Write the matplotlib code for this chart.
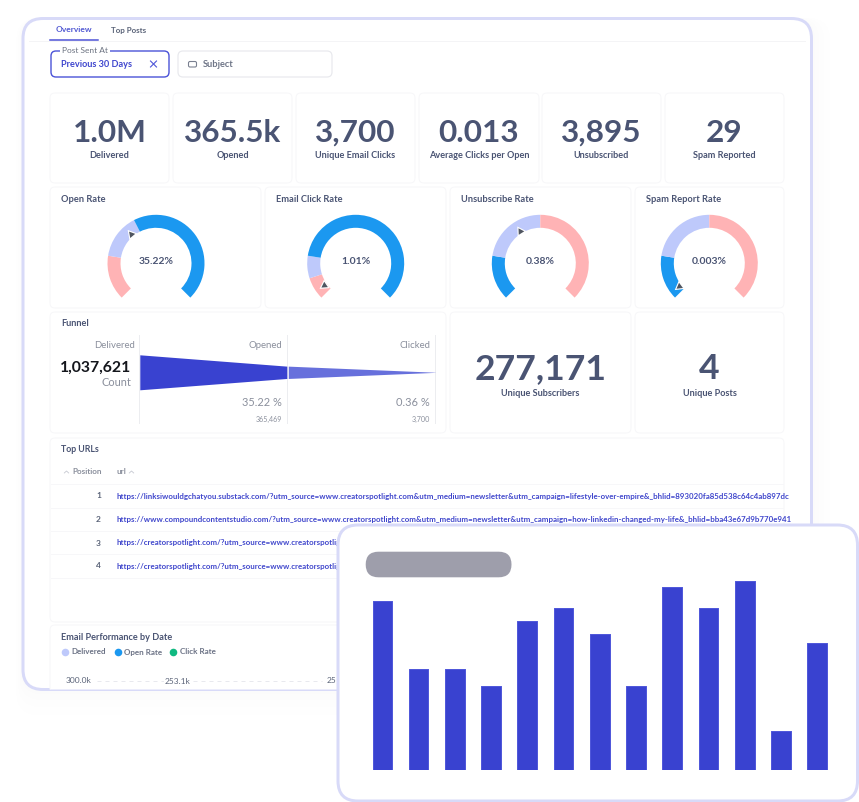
import matplotlib
matplotlib.use("Agg")
import matplotlib.pyplot as plt
from matplotlib.patches import FancyBboxPatch, Wedge
import numpy as np

plt.rcParams['font.family'] = ['Lato', 'DejaVu Sans']

W, H = 859, 802

# KPI row
kpi_values = ["1.0M", "365.5k", "3,700", "0.013", "3,895", "29"]
kpi_labels = ["Delivered", "Opened", "Unique Email Clicks", "Average Clicks per Open", "Unsubscribed", "Spam Reported"]

# Gauges
gauge_titles = ["Open Rate", "Email Click Rate", "Unsubscribe Rate", "Spam Report Rate"]
gauge_values = [35.22, 1.01, 0.38, 0.003]
gauge_labels = ["35.22%", "1.01%", "0.38%", "0.003%"]
gauge_stops = [[0, 20, 40, 100], [0, 2.5, 5, 25], [0, 0.2, 0.5, 1], [0, 0.02, 0.05, 0.1]]
gauge_colors = [["#FFB3B5", "#BEC9FB", "#1B98F0"], ["#FFB3B5", "#BEC9FB", "#1B98F0"],
                ["#1B98F0", "#BEC9FB", "#FFB3B5"], ["#1B98F0", "#BEC9FB", "#FFB3B5"]]

# Funnel
funnel_steps = ["Delivered", "Opened", "Clicked"]
funnel_counts = [1037621, 365469, 3700]
funnel_pct = ["35.22 %", "0.36 %"]
funnel_count_labels = ["365,469", "3,700"]

# Table
url_positions = ["1", "2", "3", "4"]
urls = [
    "https://linksiwouldgchatyou.substack.com/?utm_source=www.creatorspotlight.com&utm_medium=newsletter&utm_campaign=lifestyle-over-empire&_bhlid=893020fa85d538c64c4ab897dc",
    "https://www.compoundcontentstudio.com/?utm_source=www.creatorspotlight.com&utm_medium=newsletter&utm_campaign=how-linkedin-changed-my-life&_bhlid=bba43e67d9b770e941",
    "https://creatorspotlight.com/?utm_source=www.creatorspotlig",
    "https://creatorspotlight.com/?utm_source=www.creatorspotlig",
]

# Foreground bar card
bar_heights = [169, 101, 101, 84, 149, 162, 136, 84, 183, 162, 189, 39, 127]

INK = "#4A5473"
GREY = "#8A8F9C"
BLUE = "#3942D0"
LINK = "#4047CC"
FRAME = "#D8DAF8"
CARD_EDGE = "#F7F7F9"


def pt(px):
    return px * 0.72


def box(ax, x0, y0, x1, y1, r=5, fc="white", ec=CARD_EDGE, lw=1.0, **kw):
    p = FancyBboxPatch((x0, y0), x1 - x0, y1 - y0, boxstyle=f"round,pad=0,rounding_size={r}",
                       fc=fc, ec=ec, lw=pt(lw), **kw)
    ax.add_patch(p)
    return p


def px_axes(fig, x0, y0, x1, y1, zorder):
    # rect given in image pixels, y going down
    ax = fig.add_axes([x0 / W, 1 - y1 / H, (x1 - x0) / W, (y1 - y0) / H], zorder=zorder)
    ax.patch.set_alpha(0)
    ax.axis("off")
    return ax


def val_angle(v, vmax):
    return 225 - 270 * v / vmax


fig = plt.figure(figsize=(W / 100, H / 100), dpi=100, facecolor="white")
main = px_axes(fig, 0, 0, W, H, 1)
main.set_xlim(0, W)
main.set_ylim(H, 0)

# soft shadow and outer frame
for grow in [18, 12, 7, 3]:
    box(main, 22 - grow * 0.3, 18, 812 + grow, 690 + grow * 1.4, r=22, fc="#8088E0", ec="none", lw=0, alpha=0.008)
frame = box(main, 23, 18.5, 811.5, 689.5, r=20, fc="white", ec=FRAME, lw=3, zorder=1)

# tabs
main.plot([29, 805], [40.5, 40.5], color="#F4F4F6", lw=pt(1), zorder=2)
main.plot([50, 98], [40, 40], color="#4A50D5", lw=pt(1.5), zorder=2)
main.text(74, 30, "Overview", color="#4F57D2", fontsize=pt(8.4), weight="bold", ha="center", va="center", zorder=3)
main.text(128.6, 30, "Top Posts", color="#5A6378", fontsize=pt(8.0), weight="bold", ha="center", va="center", zorder=3)

# filters
box(main, 51, 51, 169, 77, r=5, ec="#4C54D8", lw=1.4, zorder=2)
main.text(85, 50.5, "Post Sent At", color="#6B7280", fontsize=pt(8.4), ha="center", va="center", zorder=3,
          bbox=dict(fc="white", ec="none", pad=1.5))
main.text(61, 64.5, "Previous 30 Days", color="#3F46CE", fontsize=pt(9.2), weight="bold", ha="left", va="center", zorder=3)
main.plot([150.5, 156.5], [61, 67], color="#4C54D8", lw=pt(1.1), zorder=3)
main.plot([150.5, 156.5], [67, 61], color="#4C54D8", lw=pt(1.1), zorder=3)
box(main, 178, 51, 332, 77, r=5, ec="#E8E9ED", lw=1.2, zorder=2)
box(main, 188.5, 61.5, 196.5, 67, r=1.5, ec="#7A8090", lw=1.1, zorder=3)
main.text(203, 64.5, "Subject", color="#6F7688", fontsize=pt(9.3), weight="bold", ha="left", va="center", zorder=3)

# KPI cards
kpi_x = [(50, 169), (173, 292), (296, 415), (419, 539), (542, 661), (665, 784)]
for (x0, x1), v, lab in zip(kpi_x, kpi_values, kpi_labels):
    box(main, x0, 93, x1, 183, zorder=2)
    main.text((x0 + x1) / 2, 133, v, color=INK, fontsize=pt(31.5), weight="bold", ha="center", va="center", zorder=3)
    main.text((x0 + x1) / 2, 156, lab, color=INK, fontsize=pt(9.2), weight="bold", ha="center", va="center", zorder=3)

# gauges
gauge_cards = [(50, 261), (265, 446), (450, 631), (635, 784)]
gauge_cx = [156, 355.7, 540.3, 709.3]
gauge_cy = 263.3
for i, (x0, x1) in enumerate(gauge_cards):
    box(main, x0, 187, x1, 308, zorder=2)
    main.text(x0 + 11, 199, gauge_titles[i], color=INK, fontsize=pt(9.3), weight="bold", ha="left", va="center", zorder=3)
    gx = gauge_cx[i]
    ax = px_axes(fig, gx - 55, gauge_cy - 55, gx + 55, gauge_cy + 55, 2)
    ax.set_xlim(-55, 55)
    ax.set_ylim(-55, 55)
    stops = gauge_stops[i]
    vmax = stops[-1]
    for j in range(3):
        ax.add_patch(Wedge((0, 0), 48.5, val_angle(stops[j + 1], vmax), val_angle(stops[j], vmax),
                           width=13, fc=gauge_colors[i][j], ec="none"))
    a = val_angle(gauge_values[i], vmax)
    px_, py_ = 38.5 * np.cos(np.radians(a)), 38.5 * np.sin(np.radians(a))
    ax.plot(px_, py_, marker=(3, 0, a - 90), ms=pt(12), color="white", mew=0)
    ax.plot(px_, py_, marker=(3, 0, a - 90), ms=pt(7.5), color="#4F5560", mew=0)
    ax.text(0, 2, gauge_labels[i], color=INK, fontsize=pt(10.4), weight="bold", ha="center", va="center")

# funnel card
box(main, 50, 312, 446, 433, zorder=2)
main.text(61, 324, "Funnel", color=INK, fontsize=pt(9.2), weight="bold", ha="left", va="center", zorder=3)
for vx in [139.3, 287.3, 435.3]:
    main.plot([vx, vx], [335, 423], color="#ECEDF0", lw=pt(1), zorder=3)
for vx, s in zip([134.6, 282.6, 430.5], funnel_steps):
    main.text(vx, 345.5, s, color=GREY, fontsize=pt(9.6), ha="right", va="center", zorder=3)
main.text(131, 367.5, f"{funnel_counts[0]:,}", color="#14161C", fontsize=pt(15.8), weight="bold", ha="right", va="center", zorder=3)
main.text(131, 382, "Count", color=GREY, fontsize=pt(11), ha="right", va="center", zorder=3)
for vx, p, c in zip([282, 430], funnel_pct, funnel_count_labels):
    main.text(vx, 402, p, color=GREY, fontsize=pt(11), ha="right", va="center", zorder=3)
    main.text(vx, 419.5, c, color=GREY, fontsize=pt(7.2), ha="right", va="center", zorder=3)

fax = px_axes(fig, 139.8, 354.8, 435.3, 389.8, 2)
fax.set_xlim(0, 2)
fax.set_ylim(-funnel_counts[0], funnel_counts[0])
counts = np.array(funnel_counts, dtype=float)
fax.fill_between([0, 0.995], counts[:2], -counts[:2], color=BLUE, lw=0)
fax.fill_between([1.005, 2], counts[1:], -counts[1:], color="#6770DC", lw=0)

# subscribers / posts cards
box(main, 450, 312, 631, 433, zorder=2)
main.text(540.5, 369, "277,171", color=INK, fontsize=pt(35.5), weight="bold", ha="center", va="center", zorder=3)
main.text(540.5, 394, "Unique Subscribers", color=INK, fontsize=pt(9.2), weight="bold", ha="center", va="center", zorder=3)
box(main, 635, 312, 784, 433, zorder=2)
main.text(709.5, 369, "4", color=INK, fontsize=pt(35.5), weight="bold", ha="center", va="center", zorder=3)
main.text(709.5, 393, "Unique Posts", color=INK, fontsize=pt(9.2), weight="bold", ha="center", va="center", zorder=3)

# table card
box(main, 50, 438, 784, 622, zorder=2)
main.text(61, 450, "Top URLs", color=INK, fontsize=pt(8.8), weight="bold", ha="left", va="center", zorder=3)
main.text(72.3, 472, "Position", color=GREY, fontsize=pt(8.2), weight="bold", ha="left", va="center", zorder=3)
main.text(116.7, 472, "url", color=GREY, fontsize=pt(8.2), weight="bold", ha="left", va="center", zorder=3)
for cx in [66.5, 131.5]:
    main.plot([cx - 2.2, cx, cx + 2.2], [473, 471, 473], color="#C4C7D0", lw=pt(0.8), zorder=3)
for ly in [484, 507.7, 531, 554, 578]:
    main.plot([51, 783], [ly, ly], color="#F7F7F9", lw=pt(1), zorder=3)
for y, n, u in zip([496, 519.5, 543, 566], url_positions, urls):
    main.text(101, y, n, color="#5A6378", fontsize=pt(8.4), weight="bold", ha="right", va="center", zorder=3)
    main.text(116.7, y, u, color=LINK, fontsize=pt(7.85), weight="bold", ha="left", va="center", zorder=3)

# chart card cut by the frame
chart_card = box(main, 50, 625, 800, 720, zorder=2)
chart_card.set_clip_path(frame)
main.text(61, 638, "Email Performance by Date", color=INK, fontsize=pt(9.2), weight="bold", ha="left", va="center", zorder=3)
for dx, tx, c, lab in zip([65, 118, 173], [71.5, 124, 179.6], ["#BEC9FB", "#1B98F0", "#10B981"], ["Delivered", "Open Rate", "Click Rate"]):
    main.plot(dx, 652, "o", color=c, ms=pt(7.6), mew=0, zorder=3)
    main.text(tx, 652, lab, color="#6B7285", fontsize=pt(8.0), weight="bold", ha="left", va="center", zorder=3)
main.text(66, 680.5, "300.0k", color="#5A6378", fontsize=pt(8.4), ha="left", va="center", zorder=3)
main.plot([97, 322], [680.5, 680.5], color="#E8E9EE", lw=pt(1), ls=(0, (4, 4)), zorder=3)
main.text(178, 681.5, "253.1k", color="#5A6378", fontsize=pt(8.4), ha="center", va="center", zorder=3,
          bbox=dict(fc="white", ec="none", pad=1))
main.text(327, 680.5, "25", color="#5A6378", fontsize=pt(8.4), ha="left", va="center", zorder=3)

# foreground card
top = px_axes(fig, 0, 0, W, H, 3)
top.set_xlim(0, W)
top.set_ylim(H, 0)
box(top, 338, 525, 857.5, 801, r=20, fc="white", ec=FRAME, lw=3)
box(top, 365.7, 551.7, 511.5, 577.3, r=12.8, fc="#9E9EAB", ec="none", lw=0)

bax = px_axes(fig, 346.06, 570, 853.44, 770, 4)
bax.set_xlim(-1, 13)
bax.set_ylim(0, 200)
bax.bar(range(len(bar_heights)), bar_heights, width=0.54, color=BLUE, edgecolor="#5058DA", lw=pt(1.0), joinstyle="round")

fig.savefig("out.png", dpi=100, facecolor="white")
